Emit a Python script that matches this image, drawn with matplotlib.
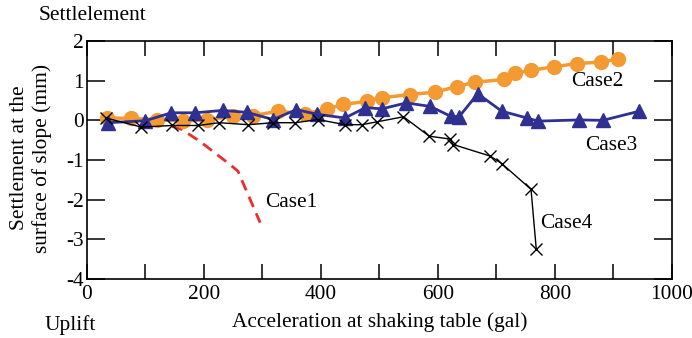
import matplotlib
matplotlib.use("Agg")
import matplotlib.pyplot as plt

# Case1 (red dashed, no markers)
case1_x = [145, 162, 193, 244, 258, 296]
case1_y = [-0.15, -0.23, -0.53, -1.11, -1.28, -2.58]

# Case2 (orange circles)
case2_x = [34, 76, 119, 164, 205, 250, 284, 327, 372, 410, 438, 478, 504,
           552, 595, 632, 663, 713, 732, 759, 798, 837, 879, 908]
case2_y = [0.06, 0.05, 0.02, -0.02, 0.02, 0.10, 0.12, 0.23, 0.16, 0.29, 0.40,
           0.48, 0.57, 0.65, 0.71, 0.85, 0.96, 1.03, 1.19, 1.26, 1.35, 1.43,
           1.47, 1.55]

# Case3 (blue triangles)
case3_x = [36, 100, 144, 185, 232, 274, 318, 358, 394, 441, 476, 504, 546,
           587, 622, 636, 668, 709, 752, 771, 841, 882, 944]
case3_y = [-0.06, -0.01, 0.19, 0.19, 0.25, 0.20, 0.02, 0.27, 0.15, 0.06, 0.32,
           0.29, 0.44, 0.35, 0.10, 0.09, 0.67, 0.23, 0.06, -0.02, 0.01, 0.00,
           0.23]

# Case4 (black crosses)
case4_x = [32, 93, 145, 190, 226, 276, 318, 356, 395, 441, 470, 495, 541,
           585, 620, 626, 689, 709, 759, 768]
case4_y = [0.06, -0.17, -0.13, -0.13, -0.06, -0.11, -0.06, -0.06, 0.02, -0.11,
           -0.11, -0.04, 0.09, -0.40, -0.47, -0.61, -0.90, -1.09, -1.74, -3.25]

x_ticks = [0, 100, 200, 300, 400, 500, 600, 700, 800, 900, 1000]
x_tick_labels = ['0', '', '200', '', '400', '', '600', '', '800', '', '1000']
y_ticks = [-4, -3, -2, -1, 0, 1, 2]

plt.rcParams['font.family'] = ['Liberation Serif', 'DejaVu Serif']
plt.rcParams['font.size'] = 15.4
plt.rcParams['axes.unicode_minus'] = False

fig = plt.figure(figsize=(6.92, 3.38), dpi=100)
ax = fig.add_axes([0.1257, 0.1746, 0.9711 - 0.1257, 0.8787 - 0.1746])

ax.plot(case1_x, case1_y, color='#EE2B2B', lw=2, dashes=(4, 2.5), zorder=2)
ax.plot(case2_x, case2_y, color='#F39A33', lw=2.5, marker='o', ms=10,
        mec='#F39A33', zorder=3)
ax.plot(case3_x, case3_y, color='#2E3192', lw=2, marker='^', ms=10,
        mec='#2E3192', zorder=4)
ax.plot(case4_x, case4_y, color='black', lw=1, marker='x', ms=9, mew=1,
        zorder=5)

ax.text(349, -2.07, 'Case1', ha='center', va='center')
ax.text(873, 0.98, 'Case2', ha='center', va='center')
ax.text(896, -0.63, 'Case3', ha='center', va='center')
ax.text(820, -2.6, 'Case4', ha='center', va='center')

ax.set_xlim(0, 1000)
ax.set_ylim(-4, 2)
ax.set_xticks(x_ticks)
ax.set_xticklabels(x_tick_labels)
ax.set_yticks(y_ticks)
ax.tick_params(axis='x', direction='in', length=11, width=1.1, top=True, pad=4)
ax.tick_params(axis='y', direction='in', length=13, width=1.1, right=True, pad=2)
for s in ax.spines.values():
    s.set_linewidth(1.2)

ax.set_xlabel('Acceleration at shaking table (gal)', labelpad=6)
fig.text(31 / 692, 1 - 158 / 338, 'Settlement at the\nsurface of slope (mm)',
         rotation=90, ha='center', va='center', linespacing=1.25)
fig.text(39 / 692, 1 - 16 / 338, 'Settlelement', ha='left', va='center')
fig.text(70 / 692, 1 - 325 / 338, 'Uplift', ha='center', va='center')

fig.savefig('out.png', dpi=100)
